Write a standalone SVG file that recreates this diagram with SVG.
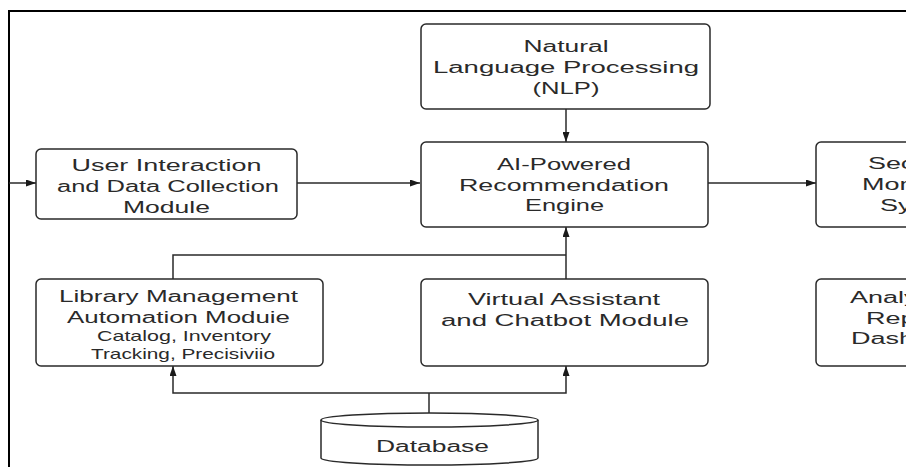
<svg xmlns="http://www.w3.org/2000/svg" width="906" height="467" viewBox="0 0 906 467">
  <style>
    .box { fill: #ffffff; stroke: #2a2a2a; stroke-width: 1.5; }
    .frame { fill: none; stroke: #000000; stroke-width: 2; }
    .wire { fill: none; stroke: #2a2a2a; stroke-width: 1.5; }
    .lbl { font-family: "Liberation Sans", Arial, sans-serif; font-size: 16px; fill: #2a2a2a; text-anchor: middle; }
    .sm { font-size: 15px; }
    .cut { text-anchor: start; }
  </style>
  <defs>
    <marker id="arrow" viewBox="0 0 10 7" refX="10" refY="3.5" markerWidth="10" markerHeight="7" markerUnits="userSpaceOnUse" orient="auto">
      <path d="M0,0 L10,3.5 L0,7 z" fill="#1a1a1a"/>
    </marker>
  </defs>

  <rect width="906" height="467" fill="#ffffff"/>
  <!-- outer frame, open towards right and bottom -->
  <path class="frame" d="M9,467 V11 H906"/>

  <g id="connectors">
    <path class="wire" d="M9,183 H36" marker-end="url(#arrow)"/>
    <path class="wire" d="M297,183 H420" marker-end="url(#arrow)"/>
    <path class="wire" d="M708,183 H816" marker-end="url(#arrow)"/>
    <path class="wire" d="M566,109 V142" marker-end="url(#arrow)"/>
    <path class="wire" d="M173,279 V255 H566"/>
    <path class="wire" d="M566,279 V227" marker-end="url(#arrow)"/>
    <path class="wire" d="M429,413 V393"/>
    <path class="wire" d="M429,393 H173 V366" marker-end="url(#arrow)"/>
    <path class="wire" d="M429,393 H566 V366" marker-end="url(#arrow)"/>
  </g>

  <g id="nlp">
    <rect class="box" x="421" y="24" width="289" height="85" rx="5"/>
    <text class="lbl" x="566" y="52" textLength="85" lengthAdjust="spacingAndGlyphs">Natural</text>
    <text class="lbl" x="566" y="73" textLength="266" lengthAdjust="spacingAndGlyphs">Language Processing</text>
    <text class="lbl" x="566" y="94" textLength="67" lengthAdjust="spacingAndGlyphs">(NLP)</text>
  </g>

  <g id="user-interaction">
    <rect class="box" x="36" y="149" width="261" height="70" rx="5"/>
    <text class="lbl" x="166.5" y="171" textLength="190" lengthAdjust="spacingAndGlyphs">User Interaction</text>
    <text class="lbl" x="168" y="192" textLength="222" lengthAdjust="spacingAndGlyphs">and Data Collection</text>
    <text class="lbl" x="166.5" y="213" textLength="87" lengthAdjust="spacingAndGlyphs">Module</text>
  </g>

  <g id="recommendation-engine">
    <rect class="box" x="421" y="142" width="287" height="85" rx="5"/>
    <text class="lbl" x="564" y="170" textLength="134" lengthAdjust="spacingAndGlyphs">AI-Powered</text>
    <text class="lbl" x="564" y="191" textLength="210" lengthAdjust="spacingAndGlyphs">Recommendation</text>
    <text class="lbl" x="564.5" y="211" textLength="79" lengthAdjust="spacingAndGlyphs">Engine</text>
  </g>

  <g id="security-monitoring">
    <rect class="box" x="816" y="142" width="287" height="85" rx="5"/>
    <text class="lbl cut" x="868" y="169" textLength="97" lengthAdjust="spacingAndGlyphs">Security</text>
    <text class="lbl cut" x="862" y="190" textLength="126" lengthAdjust="spacingAndGlyphs">Monitoring</text>
    <text class="lbl cut" x="880" y="211" textLength="90" lengthAdjust="spacingAndGlyphs">System</text>
  </g>

  <g id="library-management">
    <rect class="box" x="36" y="279" width="287" height="87" rx="5"/>
    <text class="lbl" x="178.5" y="302" textLength="239" lengthAdjust="spacingAndGlyphs">Library Management</text>
    <text class="lbl" x="178.5" y="323" textLength="223" lengthAdjust="spacingAndGlyphs">Automation Moduie</text>
    <text class="lbl sm" x="184" y="341" textLength="174" lengthAdjust="spacingAndGlyphs">Catalog, Inventory</text>
    <text class="lbl sm" x="183" y="359" textLength="184" lengthAdjust="spacingAndGlyphs">Tracking, Precisiviio</text>
  </g>

  <g id="virtual-assistant">
    <rect class="box" x="421" y="279" width="287" height="87" rx="5"/>
    <text class="lbl" x="564" y="305" textLength="192" lengthAdjust="spacingAndGlyphs">Virtual Assistant</text>
    <text class="lbl" x="565" y="326" textLength="248" lengthAdjust="spacingAndGlyphs">and Chatbot Module</text>
  </g>

  <g id="analytics-dashboard">
    <rect class="box" x="816" y="279" width="287" height="87" rx="5"/>
    <text class="lbl cut" x="850" y="303" textLength="108" lengthAdjust="spacingAndGlyphs">Analytics</text>
    <text class="lbl cut" x="866" y="324" textLength="117" lengthAdjust="spacingAndGlyphs">Reporting</text>
    <text class="lbl cut" x="851" y="344" textLength="132" lengthAdjust="spacingAndGlyphs">Dashboard</text>
  </g>

  <g id="database">
    <path class="box" d="M321,420 V458 A108.5,7 0 0 0 538,458 V420"/>
    <ellipse class="box" cx="429.5" cy="420" rx="108.5" ry="7"/>
    <text class="lbl" x="432.5" y="452" textLength="113" lengthAdjust="spacingAndGlyphs">Database</text>
  </g>
</svg>
